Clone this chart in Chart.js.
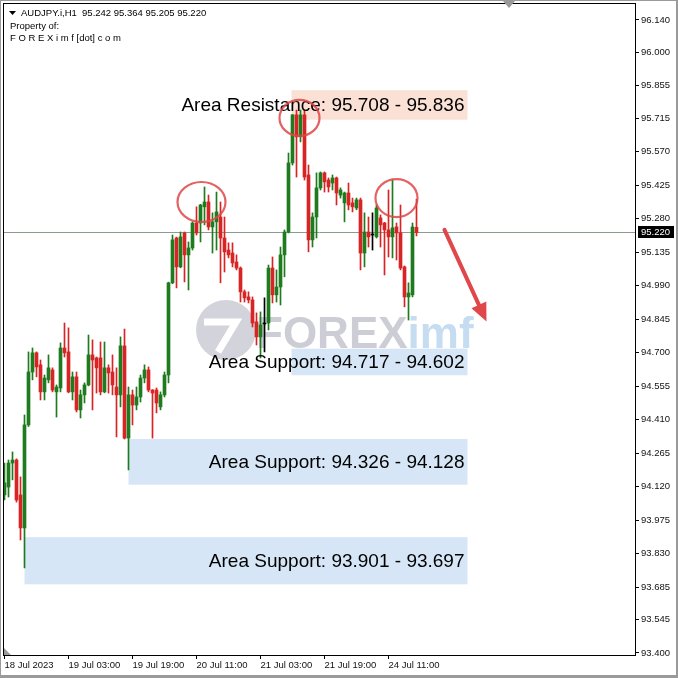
<!DOCTYPE html>
<html>
<head>
<meta charset="utf-8">
<script src="https://cdn.jsdelivr.net/npm/chart.js@4.4.0/dist/chart.umd.min.js"></script>
<style>
html, body { margin: 0; padding: 0; background: #fff; }
</style>
</head>
<body>
<canvas id="c" width="678" height="678"></canvas>
<script>
// AUDJPY.i H1, one candle per hour from 18 Jul 2023 11:00
const opens = [
  94.084, 94.118, 94.222, 94.235, 94.084, 93.941, 94.387, 94.616, 94.699, 94.647,
  94.530, 94.582, 94.625, 94.530, 94.547, 94.720, 94.703, 94.530, 94.595, 94.452,
  94.517, 94.560, 94.690, 94.677, 94.677, 94.530, 94.634, 94.616, 94.551, 94.517,
  94.729, 94.330, 94.517, 94.473, 94.508, 94.590, 94.625, 94.538, 94.538, 94.465,
  94.517, 94.603, 95.002, 95.196, 95.071, 95.218, 95.123, 95.153, 95.261, 95.261,
  95.331, 95.352, 95.244, 95.266, 95.287, 95.196, 95.144, 95.131, 95.092, 95.066,
  94.963, 94.941, 94.928, 94.833, 94.768, 94.824, 94.828, 95.066, 94.950, 94.984,
  95.123, 95.222, 95.521, 95.729, 95.634, 95.729, 95.469, 95.188, 95.287, 95.413,
  95.478, 95.447, 95.434, 95.456, 95.382, 95.348, 95.391, 95.348, 95.326, 95.361,
  95.131, 95.222, 95.209, 95.201, 95.283, 95.261, 95.231, 95.201, 95.244, 95.218,
  95.071, 94.941, 94.950, 95.242
];
const highs = [
  94.222, 94.235, 94.270, 94.240, 94.162, 94.430, 94.703, 94.720, 94.703, 94.668,
  94.603, 94.690, 94.634, 94.560, 94.742, 94.828, 94.807, 94.616, 94.616, 94.538,
  94.569, 94.776, 94.755, 94.681, 94.746, 94.746, 94.647, 94.690, 94.634, 94.768,
  94.802, 94.551, 94.538, 94.551, 94.603, 94.647, 94.638, 94.540, 94.547, 94.530,
  94.616, 95.005, 95.209, 95.200, 95.222, 95.222, 95.179, 95.266, 95.331, 95.342,
  95.417, 95.382, 95.305, 95.395, 95.352, 95.287, 95.175, 95.175, 95.123, 95.071,
  94.971, 94.963, 94.941, 94.872, 94.876, 94.937, 95.079, 95.114, 95.058, 95.157,
  95.231, 95.564, 95.731, 95.750, 95.750, 95.750, 95.512, 95.305, 95.478, 95.482,
  95.482, 95.456, 95.469, 95.460, 95.413, 95.395, 95.434, 95.369, 95.369, 95.369,
  95.305, 95.287, 95.305, 95.339, 95.296, 95.264, 95.404, 95.447, 95.261, 95.339,
  95.075, 95.002, 95.261, 95.364
];
const lows = [
  94.062, 94.075, 94.149, 94.053, 93.889, 93.768, 94.380, 94.582, 94.595, 94.495,
  94.495, 94.569, 94.530, 94.421, 94.530, 94.681, 94.526, 94.495, 94.443, 94.417,
  94.482, 94.556, 94.452, 94.525, 94.517, 94.526, 94.525, 94.517, 94.335, 94.465,
  94.326, 94.192, 94.387, 94.452, 94.486, 94.569, 94.530, 94.330, 94.439, 94.452,
  94.508, 94.569, 94.998, 94.980, 95.067, 95.006, 94.971, 95.144, 95.209, 95.179,
  95.253, 95.231, 95.131, 95.144, 95.002, 95.049, 95.110, 95.071, 95.058, 94.919,
  94.919, 94.915, 94.811, 94.733, 94.677, 94.703, 94.798, 94.915, 94.919, 94.906,
  95.028, 95.218, 95.512, 95.460, 95.612, 95.447, 95.136, 95.157, 95.196, 95.404,
  95.395, 95.395, 95.404, 95.339, 95.369, 95.266, 95.318, 95.309, 95.318, 95.058,
  95.071, 95.157, 95.144, 95.196, 95.157, 95.036, 95.114, 95.110, 95.101, 95.058,
  94.898, 94.841, 94.941, 95.205
];
const closes = [
  94.136, 94.222, 94.235, 94.062, 93.941, 94.387, 94.616, 94.699, 94.638, 94.530,
  94.590, 94.634, 94.538, 94.551, 94.720, 94.699, 94.530, 94.595, 94.452, 94.517,
  94.560, 94.690, 94.668, 94.634, 94.530, 94.634, 94.612, 94.560, 94.517, 94.729,
  94.330, 94.517, 94.473, 94.508, 94.590, 94.625, 94.538, 94.525, 94.482, 94.517,
  94.603, 95.002, 95.188, 95.071, 95.201, 95.123, 95.153, 95.261, 95.218, 95.339,
  95.352, 95.244, 95.266, 95.309, 95.196, 95.136, 95.123, 95.088, 95.066, 94.963,
  94.937, 94.928, 94.828, 94.768, 94.820, 94.824, 95.066, 94.950, 94.984, 95.123,
  95.222, 95.521, 95.729, 95.634, 95.729, 95.460, 95.188, 95.287, 95.413, 95.478,
  95.439, 95.417, 95.456, 95.391, 95.404, 95.391, 95.339, 95.331, 95.361, 95.131,
  95.222, 95.201, 95.209, 95.326, 95.253, 95.231, 95.201, 95.240, 95.218, 95.066,
  94.941, 94.958, 95.244, 95.220
];

const priceTicks = [96.140, 96.000, 95.855, 95.715, 95.570, 95.425, 95.280, 95.135, 94.990, 94.845,
                    94.700, 94.555, 94.410, 94.265, 94.120, 93.975, 93.830, 93.685, 93.545, 93.400];
const timeTickIdx = [0, 16, 32, 48, 64, 80, 96];
const timeTickText = ['18 Jul 2023', '19 Jul 03:00', '19 Jul 19:00', '20 Jul 11:00', '21 Jul 03:00', '21 Jul 19:00', '24 Jul 11:00'];
const lastPrice = 95.220;

// drawn zones (price band + bar index where they start / end)
const zoneText  = ['Area Resistance: 95.708 - 95.836', 'Area Support: 94.717 - 94.602', 'Area Support: 94.326 - 94.128', 'Area Support: 93.901 - 93.697'];
const zoneHigh  = [95.836, 94.717, 94.326, 93.901];
const zoneLow   = [95.708, 94.602, 94.128, 93.697];
const zoneStart = [71.75, 71.75, 31, 5];
const zoneEnd   = [115.75, 115.75, 115.75, 115.75];

// marked tops (bar index, price) and the forecast arrow
const topIdx   = [49.25, 73.75, 98];
const topPrice = [95.352, 95.716, 95.369];
const arrowIdx   = [110, 120.5];
const arrowPrice = [95.231, 94.835];

const UP = '#1e7b1e', DOWN = '#d82424', FLAT = '#000000';
const colors = opens.map((o, i) => closes[i] > o ? UP : (closes[i] < o ? DOWN : FLAT));
const wickData = opens.map((o, i) => ({ x: i, y: [lows[i], highs[i]] }));
const bodyData = opens.map((o, i) => ({ x: i, y: [o, closes[i]] }));

const FONT = '"Liberation Sans", Arial, sans-serif';

const overlay = {
  id: 'overlay',
  beforeDatasetsDraw(chart) {
    const { ctx, chartArea: a, scales: { x, y } } = chart;
    ctx.save();

    // zone boxes
    zoneHigh.forEach((hi, k) => {
      const x0 = x.getPixelForValue(zoneStart[k]), x1 = x.getPixelForValue(zoneEnd[k]);
      const y0 = y.getPixelForValue(hi), y1 = y.getPixelForValue(zoneLow[k]);
      ctx.fillStyle = k === 0 ? '#fbe0d6' : '#d6e6f6';
      ctx.fillRect(x0, y0, x1 - x0, y1 - y0);
    });

    // watermark
    ctx.fillStyle = '#d3d3db';
    ctx.beginPath();
    ctx.arc(226, 330, 30, 0, Math.PI * 2);
    ctx.fill();
    ctx.strokeStyle = '#ffffff';
    ctx.lineWidth = 7;
    ctx.beginPath();
    ctx.moveTo(204, 322); ctx.lineTo(236, 322); ctx.lineTo(218, 352);
    ctx.stroke();
    ctx.font = 'bold 44px ' + FONT;
    ctx.textBaseline = 'alphabetic';
    ctx.fillStyle = '#cdcdd6';
    ctx.fillText('FOREX', 256, 348);
    const w = ctx.measureText('FOREX').width;
    ctx.fillStyle = '#c6dcf1';
    ctx.fillText('imf', 256 + w, 348);

    // last price line
    const py = Math.round(y.getPixelForValue(lastPrice)) + 0.5;
    ctx.strokeStyle = '#8c9b8c';
    ctx.lineWidth = 1;
    ctx.beginPath();
    ctx.moveTo(a.left, py); ctx.lineTo(a.right, py);
    ctx.stroke();
    ctx.restore();
  },
  afterDatasetsDraw(chart) {
    const { ctx, scales: { x, y } } = chart;
    ctx.save();

    // zone labels
    ctx.font = '19px ' + FONT;
    ctx.fillStyle = '#000';
    ctx.textAlign = 'right';
    ctx.textBaseline = 'middle';
    zoneText.forEach((t, k) => {
      const yc = (y.getPixelForValue(zoneHigh[k]) + y.getPixelForValue(zoneLow[k])) / 2;
      ctx.fillText(t, x.getPixelForValue(zoneEnd[k]) - 3, yc + 1);
    });

    // circles round the tops
    ctx.strokeStyle = 'rgba(222,70,70,0.85)';
    ctx.lineWidth = 2.2;
    const rx = [24, 20, 21], ry = [20, 18, 19];
    topIdx.forEach((t, k) => {
      ctx.beginPath();
      ctx.ellipse(x.getPixelForValue(t), y.getPixelForValue(topPrice[k]), rx[k], ry[k], 0, 0, Math.PI * 2);
      ctx.stroke();
    });

    // arrow
    const ax0 = x.getPixelForValue(arrowIdx[0]), ay0 = y.getPixelForValue(arrowPrice[0]);
    const ax1 = x.getPixelForValue(arrowIdx[1]), ay1 = y.getPixelForValue(arrowPrice[1]);
    const ang = Math.atan2(ay1 - ay0, ax1 - ax0);
    const head = 20;
    ctx.strokeStyle = '#e0474a';
    ctx.fillStyle = '#e0474a';
    ctx.lineWidth = 4;
    ctx.lineCap = 'round';
    ctx.beginPath();
    ctx.moveTo(ax0, ay0);
    ctx.lineTo(ax1 - Math.cos(ang) * head * 0.8, ay1 - Math.sin(ang) * head * 0.8);
    ctx.stroke();
    ctx.beginPath();
    ctx.moveTo(ax1, ay1);
    ctx.lineTo(ax1 - Math.cos(ang - 0.42) * head, ay1 - Math.sin(ang - 0.42) * head);
    ctx.lineTo(ax1 - Math.cos(ang + 0.42) * head, ay1 - Math.sin(ang + 0.42) * head);
    ctx.closePath();
    ctx.fill();
    ctx.restore();
  },
  afterDraw(chart) {
    const { ctx, chartArea: a, scales: { y } } = chart;
    ctx.save();
    // plot frame
    ctx.strokeStyle = '#000';
    ctx.lineWidth = 1;
    ctx.strokeRect(a.left - 0.5, a.top - 0.5, a.right - a.left + 1, a.bottom - a.top + 1);

    // window frame
    ctx.fillStyle = '#9a9a9a';
    ctx.fillRect(0, 675, 678, 3);
    ctx.fillRect(676, 0, 2, 678);
    ctx.fillRect(0, 0, 1, 678);
    ctx.fillRect(0, 0, 678, 1);

    // shift marker
    ctx.fillStyle = '#9a9a9a';
    ctx.beginPath();
    ctx.moveTo(503, 1); ctx.lineTo(515, 1); ctx.lineTo(509, 8);
    ctx.closePath(); ctx.fill();
    ctx.beginPath();
    ctx.moveTo(a.left, a.bottom); ctx.lineTo(a.left + 7, a.bottom); ctx.lineTo(a.left, a.bottom - 7);
    ctx.closePath(); ctx.fill();

    // header
    ctx.fillStyle = '#000';
    ctx.beginPath();
    ctx.moveTo(9, 11); ctx.lineTo(16, 11); ctx.lineTo(12.5, 15);
    ctx.closePath(); ctx.fill();
    ctx.font = '9.5px ' + FONT;
    ctx.textBaseline = 'alphabetic';
    ctx.textAlign = 'left';
    ctx.fillText('AUDJPY.i,H1  95.242 95.364 95.205 95.220', 21, 16);
    ctx.fillText('Property of:', 10, 29);
    ctx.fillText('F O R E X i m f [dot] c o m', 10, 41);

    // last price tag
    const py = Math.round(y.getPixelForValue(lastPrice));
    ctx.fillStyle = '#000';
    ctx.fillRect(a.right + 3, py - 6, 36, 12);
    ctx.fillStyle = '#fff';
    ctx.textBaseline = 'middle';
    ctx.fillText(lastPrice.toFixed(3), a.right + 6, py + 0.5);
    ctx.restore();
  }
};

new Chart(document.getElementById('c'), {
  type: 'bar',
  data: {
    datasets: [
      { label: 'wick', data: wickData, backgroundColor: colors, barThickness: 1, grouped: false, order: 2 },
      { label: 'body', data: bodyData, backgroundColor: colors, barThickness: 3, grouped: false, minBarLength: 1, order: 1 }
    ]
  },
  options: {
    responsive: false,
    animation: false,
    devicePixelRatio: 1,
    layout: { padding: { left: 4, top: 4, right: 0, bottom: 0 } },
    plugins: { legend: { display: false }, tooltip: { enabled: false } },
    scales: {
      x: {
        type: 'linear',
        offset: false,
        min: -0.125,
        max: 157.625,
        afterBuildTicks: s => { s.ticks = timeTickIdx.map(v => ({ value: v })); },
        afterFit: s => { s.height = 23; s.paddingLeft = 0; s.paddingRight = 0; },
        grid: { offset: false, drawOnChartArea: false, drawTicks: true, tickLength: 4, color: '#000' },
        border: { display: true, color: '#000' },
        ticks: {
          autoSkip: false, maxRotation: 0, align: 'start', padding: 1,
          color: '#111', font: { family: FONT, size: 9.5 },
          callback: v => timeTickText[timeTickIdx.indexOf(v)]
        }
      },
      y: {
        position: 'right',
        min: 93.391,
        max: 96.209,
        afterBuildTicks: s => { s.ticks = priceTicks.map(v => ({ value: v })); },
        afterFit: s => { s.width = 43; s.paddingTop = 0; s.paddingBottom = 0; },
        grid: { drawOnChartArea: false, drawTicks: true, tickLength: 4, color: '#000' },
        border: { display: true, color: '#000' },
        ticks: {
          autoSkip: false, padding: 2,
          color: '#111', font: { family: FONT, size: 9.5 },
          callback: v => v.toFixed(3)
        }
      }
    }
  },
  plugins: [overlay]
});
</script>
</body>
</html>
